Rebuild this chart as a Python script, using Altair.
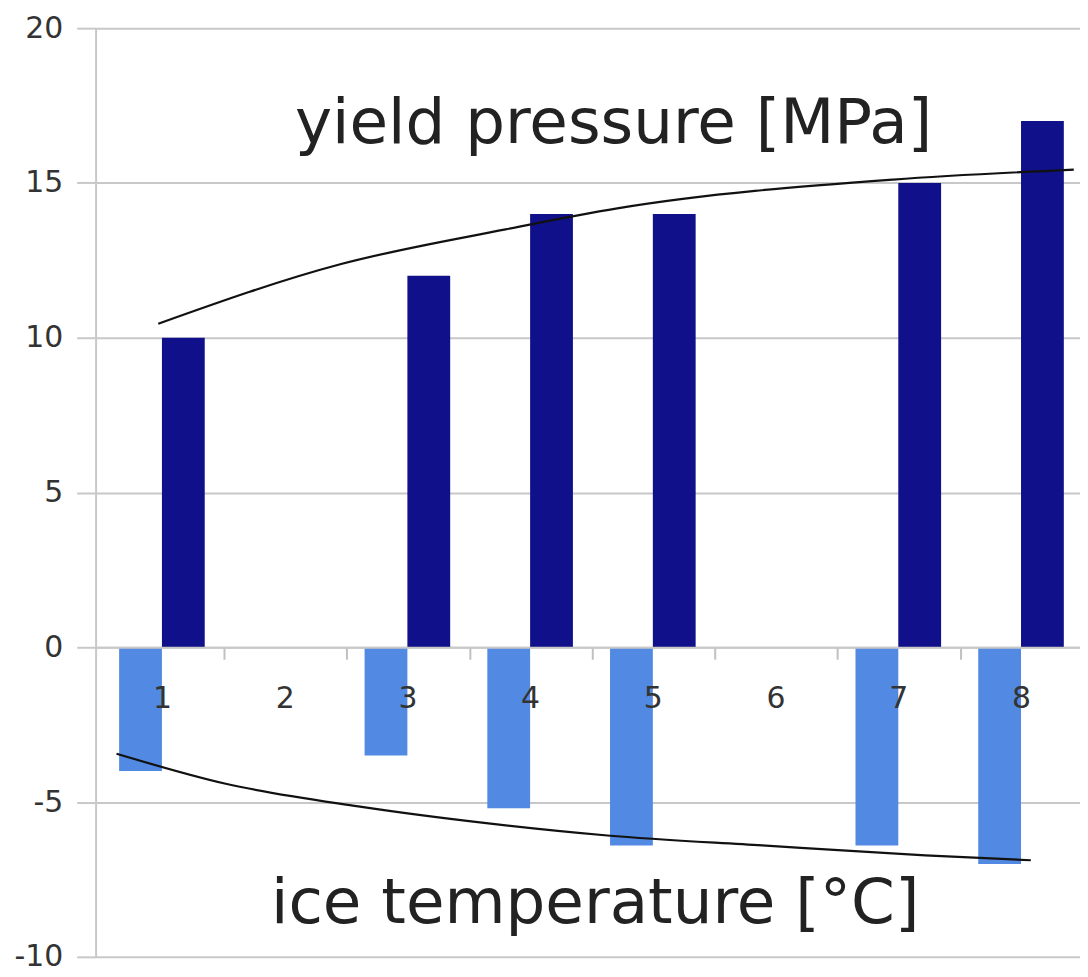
import altair as alt
import pandas as pd

# ---- data ----
categories = [1, 3, 4, 5, 7, 8]
yield_pressure = [10, 12, 14, 14, 15, 17]          # MPa (dark bars)
ice_temperature = [-4.0, -3.5, -5.2, -6.4, -6.4, -7.0]  # °C (light bars)
axis_labels = [1, 2, 3, 4, 5, 6, 7, 8]
y_ticks = [-10, -5, 0, 5, 10, 15, 20]

# trend curves (x in category units)
yield_trend_x = [0.97, 2.46, 3.80, 4.71, 6.96, 8.43]
yield_trend_y = [10.45, 12.38, 13.50, 14.18, 15.11, 15.43]
temp_trend_x = [0.63, 1.52, 2.60, 3.66, 4.63, 5.89, 7.22, 8.08]
temp_trend_y = [-3.44, -4.41, -5.14, -5.69, -6.08, -6.40, -6.72, -6.88]

label_top = "yield pressure [MPa]"
label_bottom = "ice temperature [°C]"

bars = pd.DataFrame({"cat": categories, "yield": yield_pressure, "temp": ice_temperature})
trend_top = pd.DataFrame({"x": yield_trend_x, "y": yield_trend_y})
trend_bot = pd.DataFrame({"x": temp_trend_x, "y": temp_trend_y})

FONT = "DejaVu Sans"
GRID = "#c8c8c8"

xscale = alt.Scale(domain=[0.5, 8.44], nice=False, zero=False)
yscale = alt.Scale(domain=[-10, 20], nice=False, zero=False)

xaxis = alt.Axis(
    values=axis_labels, title=None, grid=False, offset=-311, zindex=1,
    domainColor=GRID, domainWidth=2,
    ticks=True, tickSize=12, tickColor="#c0c0c0", tickWidth=2,
    tickOffset=62.3, labelOffset=-62.3,
    labelFont=FONT, labelFontSize=30, labelColor="#333333",
    labelPadding=25, labelExpr="toString(datum.value)",
)
yaxis = alt.Axis(
    values=y_ticks, title=None, grid=True,
    gridColor=GRID, gridWidth=2,
    domainColor=GRID, domainWidth=2,
    tickColor=GRID, tickWidth=2, tickSize=19,
    labelFont=FONT, labelFontSize=30, labelColor="#333333",
    labelPadding=14, labelExpr="toString(datum.value)",
)

dark = alt.Chart(bars).mark_bar(size=43, xOffset=21.5, color="#10108a").encode(
    x=alt.X("cat:Q", scale=xscale, axis=xaxis),
    y=alt.Y("yield:Q", scale=yscale, axis=yaxis),
    y2=alt.datum(0),
)
light = alt.Chart(bars).mark_bar(size=43, xOffset=-21.5, color="#5289e2").encode(
    x=alt.X("cat:Q", scale=xscale, axis=xaxis),
    y=alt.Y("temp:Q", scale=yscale, axis=yaxis),
    y2=alt.datum(0),
)

line_top = alt.Chart(trend_top).mark_line(color="#111111", strokeWidth=2.2, interpolate="monotone").encode(
    x=alt.X("x:Q", scale=xscale, axis=xaxis),
    y=alt.Y("y:Q", scale=yscale, axis=yaxis),
)
line_bot = alt.Chart(trend_bot).mark_line(color="#111111", strokeWidth=2.2, interpolate="monotone").encode(
    x=alt.X("x:Q", scale=xscale, axis=xaxis),
    y=alt.Y("y:Q", scale=yscale, axis=yaxis),
)

txt_df = pd.DataFrame({"t": [label_top]})
txt_top = alt.Chart(txt_df).mark_text(
    font=FONT, fontSize=63, color="#222222", align="center", baseline="alphabetic"
).encode(x=alt.datum(4.68), y=alt.datum(16.29), text="t:N")

txt_df2 = pd.DataFrame({"t": [label_bottom]})
txt_bot = alt.Chart(txt_df2).mark_text(
    font=FONT, fontSize=63, color="#222222", align="center", baseline="alphabetic"
).encode(x=alt.datum(4.53), y=alt.datum(-8.92), text="t:N")

chart = alt.layer(light, dark, line_top, line_bot, txt_top, txt_bot).properties(
    width=989, height=933,
    autosize=alt.AutoSizeParams(type="none"),
    padding={"left": 88, "top": 18, "right": 0, "bottom": 18},
    background="white",
).configure_view(stroke=None)

chart.save("out.html", embed_options={"renderer": "svg", "actions": False})
